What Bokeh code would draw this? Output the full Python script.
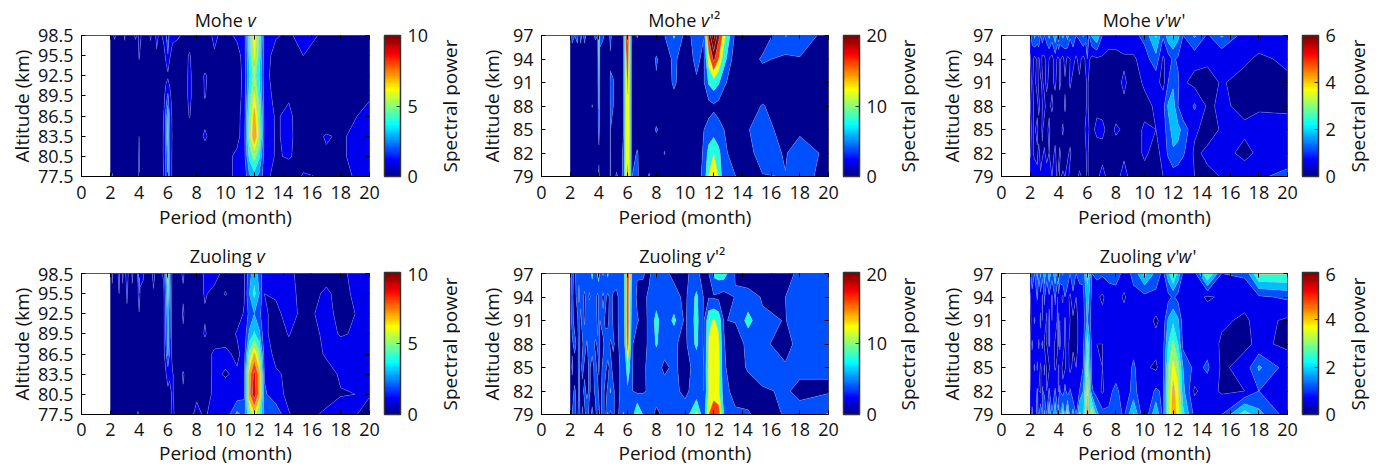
import math
import numpy as np
from bokeh.core.properties import value
from bokeh.embed import file_html
from bokeh.layouts import column, row
from bokeh.models import ColorBar, FixedTicker, LinearAxis, LinearColorMapper, Range1d
from bokeh.plotting import figure
from bokeh.resources import INLINE

PERIOD = [2, 2.14, 2.31, 2.5, 2.61, 2.73, 2.86, 3, 3.16, 3.33,
          3.53, 3.75, 3.92, 4, 4.07, 4.29, 4.44, 4.62, 4.8, 5,
          5.22, 5.45, 5.71, 5.88, 6, 6.12, 6.32, 6.67, 7.06, 7.5,
          8, 8.57, 9.23, 10, 10.8, 11.3, 11.65, 12, 12.35, 12.7,
          13.5, 14.4, 15.4, 17, 18, 20]
ALT_V = [98.5, 95.5, 92.5, 89.5, 86.5, 83.5, 80.5, 77.5]
ALT_P = [97, 94, 91, 88, 85, 82, 79]

MOHE_V = [
 [.6,.9,1.1,.7,.6,.7,.6,1.1,.6,.6, .8,1.1,.9,1.3,1.2,.6,.7,.8,1.1,.6, 1.2,.8,1.2,2,3.2,1.5,1.2,1.1,.9,.5, .3,.5,1.2,.6,1.2,1.5,4.5,6.9,5,1.6, 1.1,.8,1.5,.7,.6,.5],
 [.5,.5,.6,.5,.5,.5,.5,.7,.5,.5, .5,.6,.7,1.1,.9,.5,.5,.5,.7,.5, .9,.5,.7,1.2,1.9,1.1,.7,.6,.6,1.1, .3,.4,.9,.5,.6,1.4,4.3,6.5,4.6,1.5, .6,.5,1,.6,.5,.4],
 [.4,.4,.4,.5,.4,.4,.4,.9,.4,.4, .4,.5,.5,.6,.5,.4,.4,.4,.5,.4, .5,.4,.5,.7,.8,.7,.5,.5,.5,1.2, .4,1.1,.6,.4,.5,1.3,3.8,5.5,4,1.4, .5,.5,.5,.4,.4,.3],
 [.4,.4,.4,.4,.4,.4,.4,.9,.4,.4, .4,.5,.6,.6,.5,.4,.4,.4,.4,.4, .4,.4,.7,1.6,2.2,1.3,.6,.5,.5,1.2, .4,1.05,.5,.4,.6,1.3,4.5,6.4,4.6,1.5, .7,.9,.4,.4,.5,.9],
 [.4,.4,.4,.4,.4,.4,.4,.7,.4,.4, .4,.4,.6,.9,.7,.4,.4,.4,.4,.4, .4,.4,1,2.5,4,2,.7,.5,.5,1.05, .4,.7,.5,.4,.7,1.4,5.3,7.4,5.4,1.6, .9,1.2,.4,.4,.6,1.3],
 [.4,.4,.4,.4,.4,.5,.5,1,.5,.5, .9,.5,.9,1,.9,.4,.4,.4,.4,.4, .4,.5,1.1,2.6,4.4,2.2,.8,.5,.5,.5, .5,1.15,.5,.4,.7,1.5,5.6,7.9,5.8,1.7, .9,1.2,.5,1.07,.9,1.4],
 [.5,.5,.5,.5,.5,.5,.5,.7,.5,.5, .9,.5,.9,1.05,.8,.4,.4,.4,.4,.4, .4,.5,1.1,2.4,3.6,2,.7,.5,.5,.5, .4,.5,.5,.7,1.2,1.6,4.3,5.6,4.2,1.6, .9,1.1,.6,.9,.9,1.4],
 [.6,1.1,.6,.5,.5,.5,.5,.9,.5,.5, 1,.5,.8,1.1,.8,.4,.4,.4,.4,.4, .4,.5,1,2.2,3.3,1.9,.7,.5,.5,.4, .4,.4,.5,.7,1.2,1.4,2.8,3.5,2.7,1.5, .5,.4,1.1,.9,.8,1.3],
]
MOHE_V2 = [
 [2,5,4,5,3,5,3,5,3,4, 3,4.5,4,13,5,4.5,3,1.5,5,2, 1,1.5,4.1,17,21,13,2,4.3,1.5,1, 1,3.9,8.5,3,5,4.2,21,30,21,14, 3,1.5,1,8.2,7,2],
 [1,2,1.5,2,1.5,2,1.5,2,1.5,2, 1.5,2,3,11,3,2,1.5,1.5,3.5,1.5, 1,1,3.8,15,18,13,2,1.5,1,1, 4.5,1.5,5,1.5,5,3,14,21,16,10, 1.5,1.5,4.7,3,3.7,1.5],
 [1,1.5,1,1.5,1,1.5,1,1.5,1,1.5, 1,1.5,3,9,3,1.5,1,1,4.5,4.5, 1,1,4,14,16.5,13,1.5,1,1,1, 3.5,1,4.8,1,3.5,3.5,8.5,10.5,8.5,5, 1,1,1,1,1,1],
 [1,1,1,1,1,1,1,1,1,2, 4.2,1,2.5,8.5,2.5,1,1,1,4.3,4.1, 1,1,4,13.5,15.5,13,1.5,1,1,1, 1,1,2,1,1,1,2.5,3.3,2.5,1, 1,2,4.3,1.5,1,1],
 [1,1,1,1,1,1,1,1,1,1, 1,3.5,3,5,3,1,1,1,4.2,1, 1,1,4,14,15,13.5,1.5,1,1,1, 4.5,1.5,1,1,1.5,3.9,5.3,6,5.2,4.1, 1,3.8,6,2,3.2,1.5],
 [1,1,1,1,1,1,1,1,1,1, 1,1,2,3.5,2,1,1.5,2,4.2,1, 1.5,3,4.3,14,15,13,2,4.5,1,1, 1,4.2,1.5,1,1.5,4.5,9.5,12,9,5.5, 1,3,5.5,3.7,6,3],
 [2,4,1.5,3,1.5,2.5,1.5,3,1.5,1.5, 1.5,2,3,4.5,3,2,1.5,2,4.2,2, 4.6,3,4.5,15,17,13,4,4.8,1,4.5, 1,1,1,1,2,5,12.3,15,12,5, 4.2,1.5,3.8,4.1,5.5,2.5],
]
MOHE_VW = [
 [1,1.4,2,1.5,1.9,1.2,1.6,1.2,1.4,2, 1.5,2.2,1.6,2.3,1.5,2,1.6,2.1,1.3,1.6, 1.2,1.3,1.9,1.4,1.3,1.2,1.9,2.4,1.2,.9, .9,1,1,1.4,2.5,1.3,2.2,2.5,2,1.2, 1.9,1.1,1.9,.9,.9,1.1],
 [.5,.9,.4,.7,.5,1,.4,.5,.8,.6, .4,.9,.5,.5,.7,.4,.9,.4,.6,.8, .5,.8,.4,.7,1.2,.7,.4,.5,.5,.4, .4,.5,.5,.9,1.6,.5,.9,1.3,1.1,.9, .8,.7,.65,.7,.5,.7],
 [.4,.7,.4,.9,.4,.5,.7,.4,.8,.4, .5,.7,.4,.4,.7,.4,.5,.4,.7,.4, .4,.5,.3,.5,.7,.5,.3,.4,.4,.3, .4,.7,.3,.7,.8,.4,1.2,1.7,1.3,.7, .4,.4,.65,.4,.3,.5],
 [.5,.9,.4,.4,.8,.4,.6,.8,.3,.5, .7,.4,.3,.6,.4,.3,.7,.3,.3,.5, .6,.3,.5,.4,.8,.4,.3,.5,.3,.3, .3,.5,.3,.4,.7,1,1.9,2.1,1.2,.6, 1.3,.5,.7,.45,.5,.5],
 [.4,.7,.5,.8,.3,.4,.7,.3,.5,.7, .3,.4,.6,.3,.3,.7,.3,.4,.3,.6, .4,.6,.3,.7,.9,.6,.5,.7,.8,.3, .7,.5,.3,.7,.6,.9,1.5,2.1,2,1.6, .7,.4,.65,.7,.9,.8],
 [.5,.8,.4,.5,.8,.3,.5,.7,.3,.6, .4,.7,.3,.4,.7,.3,.3,.5,.7,.3, .3,.3,.3,.5,.8,.4,.3,.4,.3,.3, .3,.5,.3,.7,.4,.8,1.3,1.7,1.6,1.3, .5,.7,.8,.45,.7,.8],
 [1,.8,1.2,.7,1,.7,1,.7,1,.7, .6,.8,.5,.9,.5,.7,.6,.8,.4,.6, .4,.7,.5,.4,.7,.5,.5,.4,.9,.3, .4,.8,.3,.4,.4,.6,.75,.9,.8,.7, .6,.5,.62,.9,1.1,1.4],
]
ZUOLING_V = [
 [.5,1.1,.6,.9,1.2,.6,1.1,.7,1.4,.6, 1.1,.6,1.1,3,1.2,1.1,.7,.9,.6,1.3, .6,.9,1.1,3.5,6.5,3.5,.5,.7,1.1,.4, .6,1.1,1.4,.6,.7,.9,2.6,3.6,2.6,1.1, 1.1,1.3,.5,.8,.85,1.5],
 [.4,.9,.4,.7,1,.4,.9,.5,1.1,.5, .9,.5,.9,2,.9,.8,.5,.7,.5,.9, .5,.6,.8,3,4.5,2.8,.4,.4,.9,.4, .4,1.1,.7,1.05,.6,.9,3,4.3,3,1, 1.1,1.3,.7,1.1,.8,1.4],
 [.4,.7,.4,.6,.9,.4,.7,.4,.9,.4, .7,.4,.7,.9,.7,.5,.4,.5,.4,.6, .4,.4,.7,2.5,3.8,2.5,.4,.4,1.1,.4, .4,.9,.6,.5,.5,1.1,2.3,3,2.3,1.1, .8,1.3,.8,1.2,.8,1.2],
 [.4,.8,.4,.7,.9,.4,.8,.4,.7,.4, .6,.4,.5,.7,.5,.4,.4,.4,.4,.5, .4,.4,.7,2.4,3.5,2.4,.4,.4,.9,.4, .4,1.1,.4,.4,1.1,1.3,3.2,4.2,3.2,1.2, .6,1.05,.5,1.2,.95,1.15],
 [.4,.7,.4,.6,.8,.3,.6,.3,.6,.3, .5,.3,.4,.5,.4,.3,.3,.3,.3,.4, .4,.4,.7,2,3.2,2,.5,.4,.4,.4, .4,.5,1.2,1.3,.7,1.5,5.3,7.2,5.3,1.6, .7,.7,.4,1.1,1.3,1.4],
 [.4,.5,.4,.8,.4,.4,.5,.4,.5,.4, .5,.4,.4,.5,.4,.4,.4,.4,.4,.4, .4,.4,.8,1,1.3,1.1,1.1,.4,1.1,.4, .4,.5,1.2,.9,1.2,1.9,7.4,9.4,7.4,1.9, 1.15,.8,.4,.7,1.1,1.4],
 [.4,.5,.4,.7,.4,.4,.4,.4,.4,.4, .5,.4,.5,.5,.4,.4,.4,.4,.5,.4, .4,.4,.9,.8,.8,.8,1.1,.4,.9,.4, .7,.4,1.3,1.5,1.4,1.8,7.6,9.7,7.4,2.2, 1.3,.8,.4,.6,.95,1.05],
 [.5,.7,.4,.6,.5,.5,.4,.7,.4,.5, .9,.5,1.1,.9,.7,.5,.4,.6,.5,.7, .5,.5,.9,.9,.8,.9,1.1,.8,.5,.4, 1.5,.7,2,1.2,3.3,2.6,5,6.7,5,2.5, 2.8,1.05,.6,1.2,1.4,.7],
]
ZUOLING_V2 = [
 [3,5,3,6,4.5,5.5,4,7,4.5,6, 9,5,9,10,5.5,8.5,5.5,9,4.5,6, 5,6,6,12,19,15,7,4.2,4.5,3, 8.2,5,3,3.5,5,2.5,3.9,9,10,10, 3.8,1.5,1.5,2.5,5,6],
 [2,4.5,3,5,3.5,5,5,3,6,3.5, 5,5,3,4.5,6,3,5,3,5,3.5, 3.5,4.5,5.5,12,19,14,6,3.5,2.5,5, 6,4.5,5.5,3,9,3.8,3.7,3.5,3,2, 4.2,5.5,3.7,4,6,6],
 [2,5,3,3.5,5.5,3,6,3.5,7,7, 4,6,3,5.5,4,5,3.5,3,6,3.5, 3,5,5.5,12,19,14,5,4.3,3,4.5, 9.5,5,9,3.2,9.5,3.5,11,12.5,11,3.9, 4.2,9.5,4.5,3.9,5.5,6],
 [2,3.5,5,3,5,3,3.5,6,3.5,6, 5,3.5,4.5,5.5,3,3.5,5,6,3.5,4.5, 3,4.5,5,11,18,13,4.3,2.5,3,4.5, 8.5,5,4.5,3,9,3.5,12.5,14,13,4.2, 2,5,4.5,3,5,6],
 [2,4.5,2.5,3,5,3,5,3,3,4.5, 3,5,3,4.5,3,4.5,5,3,5,3, 3,4,4.5,7,11,8.5,4.2,2.5,3.2,5, 5,3.5,4.5,3,5,4,13,15,14,4.5, 2,4.5,6,4.3,5,4.5],
 [2,3,4.5,2.5,4.5,3,3,5,3,4.5, 3,4.5,5,3,3,5,3,4.5,8.5,4.5, 3,4,4.3,5,7,6,4.1,3,3.5,4.5, 5,5,4.5,3.5,5,4,12.5,14,13,6, 2,2,3.5,4.5,3,3.5],
 [2,4,5,3,6,3,4.5,3,6,3, 4.5,3,6,6,3,5,3,8.5,3,4.5, 3,4.5,8.5,5,6,5.5,6,13,8,5, 3.5,4.5,5,5,13.5,5,16,19,18,8, 5,4.5,2,4.4,5.5,8.3],
]
ZUOLING_VW = [
 [1,1.6,1.2,2,1.3,2,1.4,2.2,1.4,2.2, 1.5,2.2,1.5,2.5,1.5,1.9,1.4,1.8,1.2,1.8, 1.2,1.5,1.4,2.2,2.6,2.4,1.2,1.4,1.3,1.4, 1.5,1,1.3,2.6,1.6,1,2.2,3.2,2.2,1.1, 1,3.2,1.2,1.3,3.1,3.1],
 [.5,1,.6,1.3,.7,1,.5,1.3,.8,1.1, .5,1.3,.6,1,.8,.5,1.2,.7,.5,1, .6,.8,1,1.7,2.2,1.8,1,.7,.5,.9, .9,.5,1.1,1,1,.7,1,1.3,1,.7, .9,.5,.7,.8,1.1,1.3],
 [.5,.7,1.3,.6,1,1.3,.6,1,.5,1.3, .6,1,.5,1.3,.6,.9,.5,1,.6,.5, .5,.7,.9,1.5,1.9,1.5,.9,.7,.8,.9, .8,.9,.8,.9,.5,.8,1.9,2.3,1.9,.9, .9,1,.7,.5,.8,.5],
 [.5,1.3,.6,.9,.5,1,1.3,.5,.6,1.3, .9,.5,.5,1.3,.5,.9,.5,.8,.4,.5, .5,.7,1,2,2.9,2.1,1,.6,.6,.9, .9,.6,1,.9,.8,1,2.4,3.2,2.4,1, .9,1,.5,.5,.7,.5],
 [.5,.9,1.3,.5,1,.5,.8,1.3,.5,.5, .9,.5,.8,.5,.9,.5,.5,.9,.4,.8, .6,.9,1.2,2.4,3.4,2.4,1,.8,.6,1, .8,.8,1.3,.7,.5,1,3,3.9,3.3,1.8, 1,1.3,.5,.8,1.9,.9],
 [.6,1,.6,1.3,.6,.5,1.3,1,.6,1.3, .6,1.3,.7,.5,1.3,.7,1.5,.7,1.3,.6, .8,1.2,1.8,2.8,3.9,2.8,1.3,.9,.5,1, 1.4,.8,1.4,.7,1.3,1.1,3.2,4.4,3.8,2, .5,.9,.5,.6,1.2,.9],
 [.8,1.3,.9,1.4,1.1,1.8,1.2,2,1.2,2.4, 1.3,2.4,1.4,2.8,1.5,3,1.6,3.6,1.3,2.2, 1.2,2.6,2.2,3.5,5.3,3,3.9,2,1.4,1.3, 1.5,1.1,2.5,.6,2.4,1,3.4,4.5,4,2.6, 1,.7,1.2,2.8,2,.9],
]

FONT = "Open Sans"
TICK_SIZE = "18px"
LABEL_SIZE = "19px"
TITLE_SIZE = "18px"
INK = "#111111"
LEFT = 81


def jet(v):
    idx = min(63, int(v * 64))
    t = (idx + 1) / 64
    ch = lambda c: int(round(255 * max(0.0, min(1.0, 1.5 - abs(4 * t - c)))))
    return "#%02x%02x%02x" % (ch(3), ch(2), ch(1))


JET256 = [jet(i / 255.999) for i in range(256)]


def strip(width, height, ymax):
    """A bare figure holding only text; its x range is measured in pixels."""
    s = figure(width=width, height=height, x_range=Range1d(0, width), y_range=Range1d(0, ymax),
               x_axis_type=None, y_axis_type=None, toolbar_location=None, output_backend="svg",
               min_border=0, outline_line_color=None)
    s.grid.visible = False
    return s


def panel(rows, alts, step, clim, cticks, title_parts, title_dx, frame_w, right, side_w, geom, ylab_gap):
    pad, head_h, title_y, frame_h, bottom, tick_gap, label_gap = geom
    alts_asc = alts[::-1]
    z = np.array(rows[::-1], dtype=float)
    p = figure(width=LEFT + frame_w + right, height=pad + frame_h + bottom,
               x_range=Range1d(0, 20), y_range=Range1d(alts_asc[0], alts_asc[-1]),
               toolbar_location=None, output_backend="svg",
               min_border_left=LEFT, min_border_right=right,
               min_border_top=pad, min_border_bottom=bottom,
               x_axis_label="Period (month)", y_axis_label="Altitude (km)")
    p.grid.visible = False
    p.outline_line_color = "#555555"
    p.outline_line_width = 1
    nlev = int(round(z.max() / step)) + 2
    levels = [i * step for i in range(nlev + 1)]
    fills = [jet(min(1.0, lv / clim)) for lv in levels[:-1]]
    p.contour(PERIOD, alts_asc, z, levels, fill_color=fills,
              line_color="#9a9ac8", line_width=0.45, line_alpha=0.75)

    for ax, ticks in ((p.xaxis[0], list(range(0, 21, 2))), (p.yaxis[0], alts_asc)):
        ax.ticker = FixedTicker(ticks=ticks)
        ax.major_tick_in = 4
        ax.major_tick_out = 0
        ax.minor_tick_in = 0
        ax.minor_tick_out = 0
        ax.major_label_text_font = FONT
        ax.major_label_text_font_size = TICK_SIZE
        ax.major_label_text_color = INK
        ax.axis_label_text_font = FONT
        ax.axis_label_text_font_size = LABEL_SIZE
        ax.axis_label_text_font_style = "normal"
        ax.axis_label_text_color = INK
        ax.axis_line_color = "black"
        ax.major_tick_line_color = "black"
    p.xaxis[0].major_label_standoff = tick_gap
    p.xaxis[0].axis_label_standoff = label_gap
    p.yaxis[0].major_label_standoff = 8
    p.yaxis[0].axis_label_standoff = ylab_gap

    for side, ticks in (("above", list(range(0, 21, 2))), ("right", alts_asc)):
        ax = LinearAxis(ticker=FixedTicker(ticks=ticks), major_tick_in=4, major_tick_out=0,
                        minor_tick_in=0, minor_tick_out=0, axis_line_color=None,
                        major_tick_line_color="black", major_label_text_font_size="1px",
                        major_label_overrides={t: "" for t in ticks},
                        major_label_standoff=0)
        p.add_layout(ax, side)

    mapper = LinearColorMapper(palette=JET256, low=0, high=clim)
    cb = ColorBar(color_mapper=mapper, width=16, height=frame_h, padding=0, margin=0,
                  location=(frame_w + 15, 0),
                  ticker=FixedTicker(ticks=cticks), major_tick_in=4, major_tick_out=0,
                  major_tick_line_color="#333333", minor_tick_line_color=None,
                  bar_line_color="#333333", bar_line_width=1.5, border_line_color=None,
                  background_fill_color=None, major_label_text_font=FONT,
                  major_label_text_font_size=TICK_SIZE, major_label_text_color=INK,
                  label_standoff=7)
    p.add_layout(cb, "center")

    # right-hand strip: its frame lines up with the plot's frame inside a row
    side = strip(side_w, pad + frame_h + bottom, frame_h)
    side.text(x=[12], y=[frame_h / 2], text=["Spectral power"], angle=math.pi / 2,
              text_align="center", text_baseline="middle", text_font=value(FONT),
              text_font_size=LABEL_SIZE, text_color=INK)

    # top strip: roman and italic pieces side by side
    full_w = LEFT + frame_w + right + side_w
    head = strip(full_w, head_h, head_h)
    centre = LEFT + frame_w / 2 + title_dx
    for txt, style, dx, align in title_parts:
        head.text(x=[centre + dx], y=[title_y], text=[txt], text_align=align,
                  text_baseline="middle", text_font=value(FONT), text_font_size=TITLE_SIZE,
                  text_font_style=style, text_color=INK)
    return column(head, row(p, side, spacing=0), spacing=0)


def title(name, kind):
    head = [(name + " ", "normal", 0, "right"), ("v", "italic", 0, "left")]
    if kind == "v":
        return head
    if kind == "v2":
        return head + [("'²", "normal", 9, "left")]
    return head + [("'", "normal", 9, "left"), ("w", "italic", 12, "left"), ("'", "normal", 26, "left")]


#        pad, head_h, title_y, frame_h, bottom, tick_gap, label_gap
GEOM1 = (7, 28, 9, 141, 64, 9, 2)
GEOM2 = (6, 27, 12, 142, 53, 8, 1)

r1 = row(
    panel(MOHE_V, ALT_V, 1, 10, [0, 5, 10], title("Mohe", "v"), 22, 288, 68, 23, GEOM1, 0),
    panel(MOHE_V2, ALT_P, 4, 20, [0, 10, 20], title("Mohe", "v2"), 16, 287, 67, 25, GEOM1, 5),
    panel(MOHE_VW, ALT_P, 0.6, 6, [0, 2, 4, 6], title("Mohe", "vw"), 11, 286, 58, 31, GEOM1, 5),
    spacing=0,
)
r2 = row(
    panel(ZUOLING_V, ALT_V, 1, 10, [0, 5, 10], title("Zuoling", "v"), 31, 288, 68, 23, GEOM2, 0),
    panel(ZUOLING_V2, ALT_P, 4, 20, [0, 10, 20], title("Zuoling", "v2"), 21, 287, 67, 25, GEOM2, 5),
    panel(ZUOLING_VW, ALT_P, 0.6, 6, [0, 2, 4, 6], title("Zuoling", "vw"), 22, 286, 58, 31, GEOM2, 5),
    spacing=0,
)
page = column(r1, r2, spacing=0)
open("out.html", "w").write(file_html(page, INLINE))
